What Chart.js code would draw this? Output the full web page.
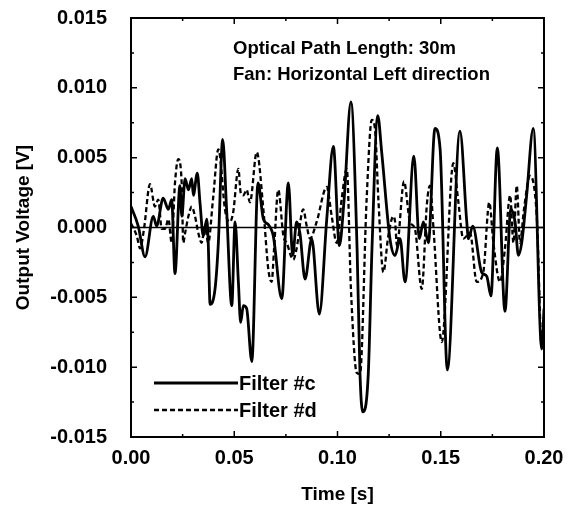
<!DOCTYPE html>
<html>
<head>
<meta charset="utf-8">
<script src="https://cdn.jsdelivr.net/npm/chart.js@4.4.0/dist/chart.umd.min.js"></script>
<style>
html,body{margin:0;padding:0;background:#fff;}
#wrap{width:571px;height:506px;position:relative;}
</style>
</head>
<body>
<div id="wrap"><canvas id="c" width="571" height="506"></canvas></div>
<script>
const xTicks = [0.00, 0.05, 0.10, 0.15, 0.20];
const yTicks = [-0.015, -0.010, -0.005, 0.000, 0.005, 0.010, 0.015];
const seriesNames = ["Filter #c", "Filter #d"];
const annotationLines = ["Optical Path Length: 30m", "Fan: Horizontal Left direction"];

const timeC = [0,0.0035,0.0068,0.0108,0.0124,0.0156,0.0181,0.0197,0.0213,0.0237,0.0246,0.0262,0.0278,0.0294,0.0302,0.0321,0.0334,0.035,0.0367,0.0374,0.0383,0.0407,0.0423,0.0444,0.0463,0.0488,0.0504,0.052,0.0531,0.0544,0.056,0.0585,0.0615,0.0641,0.0665,0.0689,0.073,0.0762,0.0783,0.0802,0.0818,0.0843,0.0875,0.0912,0.0948,0.098,0.1009,0.1032,0.1065,0.1095,0.1109,0.1122,0.1149,0.1167,0.1195,0.1214,0.1254,0.1279,0.1303,0.1327,0.137,0.1396,0.1416,0.144,0.1472,0.1497,0.1532,0.1593,0.1626,0.1634,0.1655,0.1698,0.1723,0.1743,0.1774,0.1811,0.1839,0.186,0.1876,0.1892,0.1916,0.1948,0.1989,0.2];
const filterC = [0.0015,0.0001,-0.0021,0.0008,0.0001,0.0021,0.0013,0.002,-0.0033,0.003,0.0008,0.0035,0.0027,0.0035,0.0023,0.0039,0.0018,-0.0006,0.0006,-0.0011,-0.0055,-0.0044,-0.0011,0.0063,0.0013,-0.0056,0.0004,-0.0039,-0.0068,-0.0056,-0.0058,-0.0096,0.0032,0.0006,0.0002,-0.0006,-0.0051,0.0032,-0.002,0.0004,-0.0004,-0.0037,-0.0008,-0.0062,0.0006,0.0058,-0.0013,0.002,0.009,-0.0016,-0.0105,-0.0132,-0.0105,-0.0015,0.008,0.0054,-0.0008,-0.002,-0.0008,-0.0039,0.0051,-0.0008,0.0004,-0.0011,0.0071,0.0056,-0.0102,0.0069,0.0004,-0.0008,0.0001,-0.0032,-0.0035,-0.0049,0.0057,-0.006,0.0013,0.0004,-0.002,-0.0011,0.0023,0.0071,-0.0087,-0.0058];

const timeD = [0,0.0028,0.0044,0.0063,0.0092,0.0116,0.0132,0.0149,0.0165,0.0181,0.0197,0.0213,0.0229,0.0246,0.0253,0.0262,0.0278,0.0294,0.031,0.0326,0.0342,0.0358,0.0374,0.0397,0.0423,0.0431,0.0455,0.0479,0.0495,0.052,0.0531,0.0544,0.056,0.0576,0.0609,0.0641,0.0665,0.0681,0.0693,0.0713,0.0738,0.0754,0.0786,0.0802,0.0834,0.0851,0.0867,0.0899,0.0948,0.0972,0.0996,0.102,0.1045,0.1065,0.1093,0.1109,0.1141,0.1166,0.1182,0.1198,0.1222,0.1246,0.127,0.1279,0.1288,0.1322,0.1351,0.1375,0.1408,0.1433,0.1448,0.1464,0.1505,0.1561,0.1584,0.1609,0.1642,0.1674,0.1706,0.1735,0.1755,0.1787,0.1811,0.1836,0.1852,0.1868,0.1884,0.1903,0.1932,0.1965,0.1989,0.2];
const filterD = [0.0003,-0.0006,-0.0015,-0.0001,0.0031,0.0015,0.002,-0.0001,-0.0001,0.0006,-0.0011,0.0032,0.0049,0.003,-0.0011,-0.0004,0.0008,0.0015,0.0008,-0.0004,-0.0011,0.0001,-0.0011,0.002,0.0056,0.0051,0.0013,0.0004,0.0011,0.0042,0.0025,0.0023,0.0027,0.0018,0.0054,0.0013,-0.003,-0.0039,-0.0015,0.0027,-0.0006,-0.0011,-0.0023,-0.0015,0.0013,0.0001,-0.0008,0.0004,0.0029,0.0008,-0.0011,0.002,0.0042,-0.0044,-0.0104,-0.0105,0.002,0.0077,0.007,0.002,-0.0032,-0.0006,0.0008,0.0004,-0.0013,0.0033,0.0004,-0.0001,-0.0044,0.0017,0.003,0.0001,-0.0082,0.0046,0.002,-0.0008,-0.0004,-0.0039,-0.0032,0.0018,-0.0011,-0.0039,-0.0015,0.0023,-0.0011,0.003,-0.0011,0.0013,0.0037,0.0008,-0.0085,-0.0068];

const FONT = "'Liberation Sans', Arial, sans-serif";

const pts = (ts, vs) => ts.map((t, i) => ({x: t, y: vs[i]}));

const framePlugin = {
  id: 'frame',
  afterDatasetsDraw(chart) {
    const ctx = chart.ctx;
    const a = chart.chartArea;
    const xs = chart.scales.x, ys = chart.scales.y;
    ctx.save();
    ctx.strokeStyle = '#000';
    ctx.lineWidth = 2;
    ctx.strokeRect(a.left, a.top, a.right - a.left, a.bottom - a.top);
    ctx.lineWidth = 1.5;
    for (let i = 0; i < xTicks.length; i++) {
      const px = xs.getPixelForValue(xTicks[i]);
      ctx.beginPath();
      ctx.moveTo(px, a.bottom); ctx.lineTo(px, a.bottom - 6);
      ctx.moveTo(px, a.top); ctx.lineTo(px, a.top + 6);
      ctx.stroke();
      if (i < xTicks.length - 1) {
        const mx = xs.getPixelForValue((xTicks[i] + xTicks[i + 1]) / 2);
        ctx.beginPath();
        ctx.moveTo(mx, a.bottom); ctx.lineTo(mx, a.bottom - 3);
        ctx.moveTo(mx, a.top); ctx.lineTo(mx, a.top + 3);
        ctx.stroke();
      }
    }
    for (let i = 0; i < yTicks.length; i++) {
      const py = ys.getPixelForValue(yTicks[i]);
      ctx.beginPath();
      ctx.moveTo(a.left, py); ctx.lineTo(a.left + 6, py);
      ctx.moveTo(a.right, py); ctx.lineTo(a.right - 6, py);
      ctx.stroke();
      if (i < yTicks.length - 1) {
        const my = ys.getPixelForValue((yTicks[i] + yTicks[i + 1]) / 2);
        ctx.beginPath();
        ctx.moveTo(a.left, my); ctx.lineTo(a.left + 3, my);
        ctx.moveTo(a.right, my); ctx.lineTo(a.right - 3, my);
        ctx.stroke();
      }
    }
    ctx.fillStyle = '#000';
    ctx.font = "bold 18.5px " + FONT;
    ctx.textAlign = 'left';
    ctx.textBaseline = 'middle';
    ctx.fillText(annotationLines[0], 233, 49);
    ctx.fillText(annotationLines[1], 233, 75);
    const dsets = chart.data.datasets;
    const ly = [383, 410];
    ctx.font = "bold 20px " + FONT;
    for (let k = 0; k < 2; k++) {
      ctx.beginPath();
      ctx.lineWidth = dsets[k].borderWidth;
      ctx.setLineDash(dsets[k].borderDash || []);
      ctx.moveTo(154, ly[k]); ctx.lineTo(238, ly[k]);
      ctx.stroke();
      ctx.setLineDash([]);
      ctx.fillText(seriesNames[k], 239, ly[k] + 1);
    }
    ctx.restore();
  }
};

new Chart(document.getElementById('c'), {
  type: 'line',
  data: {
    datasets: [
      {label: seriesNames[0], data: pts(timeC, filterC), borderColor: '#000', borderWidth: 2.8, pointRadius: 0, cubicInterpolationMode: 'monotone', fill: false},
      {label: seriesNames[1], data: pts(timeD, filterD), borderColor: '#000', borderWidth: 2.3, borderDash: [5, 3], pointRadius: 0, cubicInterpolationMode: 'monotone', fill: false},
      {label: 'zero', data: [{x: xTicks[0], y: 0}, {x: xTicks[xTicks.length - 1], y: 0}], borderColor: '#000', borderWidth: 1.5, pointRadius: 0, fill: false}
    ]
  },
  options: {
    responsive: false,
    animation: false,
    devicePixelRatio: 1,
    layout: {padding: {top: 18, right: 27, left: 12, bottom: 0}},
    plugins: {legend: {display: false}, tooltip: {enabled: false}},
    scales: {
      x: {
        type: 'linear', min: 0, max: 0.2,
        afterBuildTicks(s) { s.ticks = xTicks.map(v => ({value: v})); },
        afterFit(s) { s.height = 69; s.paddingLeft = 0; s.paddingRight = 0; s.paddingTop = 0; s.paddingBottom = 0; },
        grid: {display: false, drawTicks: false},
        border: {display: false},
        ticks: {color: '#000', padding: 9, font: {family: FONT, size: 20, weight: 'bold'}, callback: v => v.toFixed(2), maxRotation: 0, autoSkip: false},
        title: {display: true, text: 'Time [s]', color: '#000', font: {family: FONT, size: 19, weight: 'bold'}, padding: {top: 8, bottom: 0}}
      },
      y: {
        type: 'linear', min: -0.015, max: 0.015,
        afterBuildTicks(s) { s.ticks = yTicks.map(v => ({value: v})); },
        afterFit(s) { s.width = 119; s.paddingTop = 0; s.paddingBottom = 0; s.paddingLeft = 0; s.paddingRight = 0; },
        grid: {display: false, drawTicks: false},
        border: {display: false},
        ticks: {color: '#000', padding: 24, font: {family: FONT, size: 20, weight: 'bold'}, callback: v => v.toFixed(3), autoSkip: false},
        title: {display: true, text: 'Output Voltage [V]', color: '#000', font: {family: FONT, size: 19, weight: 'bold'}, padding: {top: 0, bottom: 0}}
      }
    }
  },
  plugins: [framePlugin]
});
</script>
</body>
</html>
